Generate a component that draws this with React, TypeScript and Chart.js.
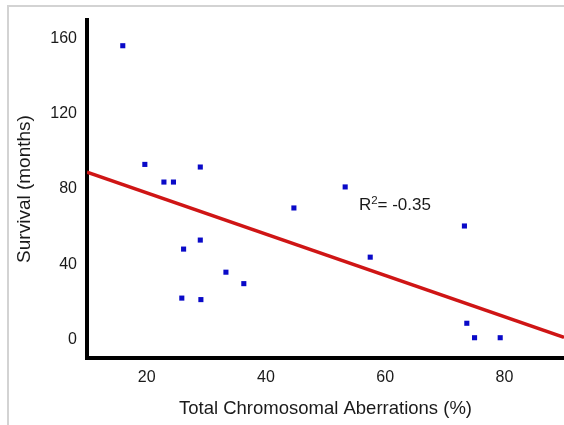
import React, { useEffect, useRef } from "react";
import { Chart, registerables } from "chart.js";

Chart.register(...registerables);

const X_VALUES = [16.0, 19.7, 22.9, 24.5, 29.0, 26.2, 29.0, 25.9, 29.1, 33.3, 36.3, 44.7, 53.3, 57.5, 73.3, 73.7, 75.0, 79.3];
const Y_VALUES = [156.3, 93.1, 83.7, 83.7, 91.7, 48.0, 52.8, 21.9, 21.1, 35.7, 29.6, 69.9, 81.1, 43.7, 60.3, 8.5, 0.8, 0.8];
const FIT_X = [10, 90];
const FIT_Y = [89, 1];
const X_TICKS = [20, 40, 60, 80];
const Y_TICKS = [0, 40, 80, 120, 160];
const X_TITLE = "Total Chromosomal Aberrations (%)";
const Y_TITLE = "Survival (months)";
const R2_TEXT = { base: "R", sup: "2", rest: "= -0.35", x: 55.6, y: 68.8 };

const FONT = "'Liberation Sans', Arial, sans-serif";

const framePlugin = {
  id: "frame",
  beforeDraw(chart: any) {
    const ctx = chart.ctx;
    ctx.save();
    ctx.fillStyle = "#ffffff";
    ctx.fillRect(0, 0, chart.width, chart.height);
    ctx.fillStyle = "#d3d3d3";
    ctx.fillRect(7, 5, 2, chart.height - 5);
    ctx.fillRect(7, 5, chart.width - 7, 2);
    ctx.restore();
  },
};

const r2Plugin = {
  id: "r2label",
  afterDatasetsDraw(chart: any) {
    const ctx = chart.ctx;
    const xs = chart.scales.x;
    const ys = chart.scales.y;
    const px = xs.getPixelForValue(R2_TEXT.x);
    const py = ys.getPixelForValue(R2_TEXT.y);
    ctx.save();
    ctx.fillStyle = "#1a1a1a";
    ctx.textBaseline = "alphabetic";
    ctx.textAlign = "left";
    ctx.font = `17px ${FONT}`;
    ctx.fillText(R2_TEXT.base, px, py);
    let w = ctx.measureText(R2_TEXT.base).width;
    ctx.font = `11.5px ${FONT}`;
    ctx.fillText(R2_TEXT.sup, px + w, py - 6.5);
    w += ctx.measureText(R2_TEXT.sup).width;
    ctx.font = `17px ${FONT}`;
    ctx.fillText(R2_TEXT.rest, px + w, py);
    ctx.restore();
  },
};

export default function App() {
  const ref = useRef<HTMLCanvasElement | null>(null);

  useEffect(() => {
    document.body.style.margin = "0";
    const canvas = ref.current;
    if (!canvas) return;
    const points = X_VALUES.map((x, i) => ({ x, y: Y_VALUES[i] }));
    const fit = FIT_X.map((x, i) => ({ x, y: FIT_Y[i] }));
    const chart = new Chart(canvas, {
      type: "scatter",
      data: {
        datasets: [
          {
            type: "scatter",
            data: points,
            backgroundColor: "#0a0ac8",
            borderColor: "#0a0ac8",
            borderWidth: 0,
            pointStyle: "rect",
            pointRadius: 3.6,
            order: 0,
          } as any,
          {
            type: "line",
            data: fit,
            borderColor: "#cf1515",
            borderWidth: 3.5,
            pointRadius: 0,
            fill: false,
            order: 1,
          } as any,
        ],
      },
      options: {
        animation: false,
        responsive: false,
        maintainAspectRatio: false,
        layout: { autoPadding: false, padding: { top: 20, left: 0, right: 0, bottom: 0 } },
        plugins: {
          legend: { display: false },
          tooltip: { enabled: false },
        },
        scales: {
          x: {
            type: "linear",
            min: 10,
            max: 90,
            grid: { display: false, drawTicks: false, tickLength: 0 },
            border: { display: true, color: "#000", width: 4 },
            ticks: {
              color: "#1a1a1a",
              font: { family: FONT, size: 16 },
              padding: 10,
              maxRotation: 0,
            },
            afterBuildTicks: (s: any) => {
              s.ticks = X_TICKS.map((v) => ({ value: v }));
            },
            afterFit: (s: any) => {
              s.height = 67;
            },
            title: {
              display: true,
              text: X_TITLE,
              color: "#1a1a1a",
              font: { family: FONT, size: 18.5 },
              padding: { top: 0, bottom: 5 },
            },
          },
          y: {
            type: "linear",
            min: -10,
            max: 170,
            grid: { display: false, drawTicks: false, tickLength: 0 },
            border: { display: true, color: "#000", width: 4 },
            ticks: {
              color: "#1a1a1a",
              font: { family: FONT, size: 16 },
              padding: 10,
            },
            afterBuildTicks: (s: any) => {
              s.ticks = Y_TICKS.map((v) => ({ value: v }));
            },
            afterFit: (s: any) => {
              s.width = 87;
            },
            title: {
              display: true,
              text: Y_TITLE,
              color: "#1a1a1a",
              font: { family: FONT, size: 19 },
              padding: { top: 13, bottom: 0 },
            },
          },
        },
      },
      plugins: [framePlugin, r2Plugin],
    });
    return () => chart.destroy();
  }, []);

  return (
    <div style={{ width: 564, height: 425, position: "relative" }}>
      <canvas ref={ref} width={564} height={425} style={{ display: "block" }} />
    </div>
  );
}
